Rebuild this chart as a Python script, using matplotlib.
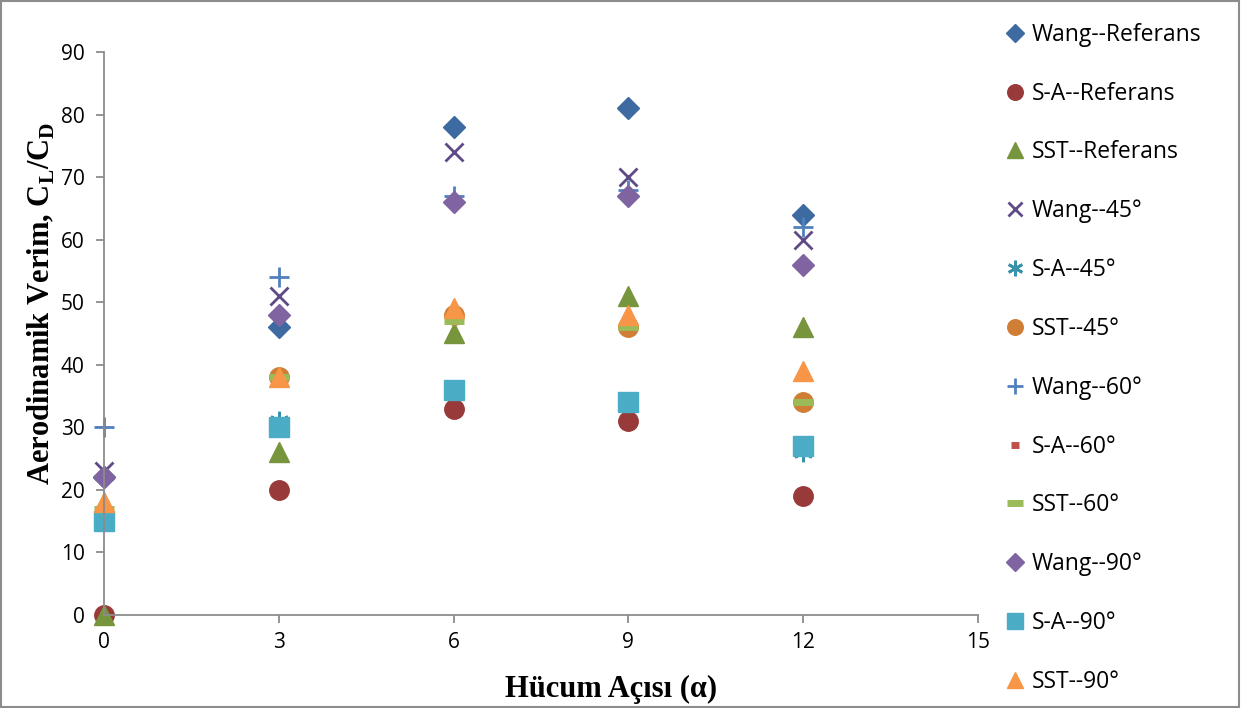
import matplotlib.pyplot as plt
from matplotlib.patches import Rectangle

# angle of attack
x = [0, 3, 6, 9, 12]

# aerodynamic efficiency CL/CD for each series
wang_ref = [22, 46, 78, 81, 64]
sa_ref = [0, 20, 33, 31, 19]
sst_ref = [0, 26, 45, 51, 46]
wang_45 = [23, 51, 74, 70, 60]
sa_45 = [15, 31, 36, 34, 26]
sst_45 = [15, 38, 48, 46, 34]
wang_60 = [30, 54, 67, 68, 62]
sa_60 = [15, 30, 36, 34, 26]
sst_60 = [17, 38, 47, 46, 34]
wang_90 = [22, 48, 66, 67, 56]
sa_90 = [15, 30, 36, 34, 27]
sst_90 = [18, 38, 49, 48, 39]

labels = ['Wang--Referans', 'S-A--Referans', 'SST--Referans',
          'Wang--45°', 'S-A--45°', 'SST--45°',
          'Wang--60°', 'S-A--60°', 'SST--60°',
          'Wang--90°', 'S-A--90°', 'SST--90°']
series = [wang_ref, sa_ref, sst_ref, wang_45, sa_45, sst_45,
          wang_60, sa_60, sst_60, wang_90, sa_90, sst_90]

styles = [
    dict(marker='D', color='#3d6aa1', ms=11.5),
    dict(marker='o', color='#973a39', ms=14),
    dict(marker='^', color='#77953d', ms=14),
    dict(marker='x', color='#5e4a87', ms=13, mew=2),
    dict(marker=(6, 2, 0), color='#3792aa', ms=14, mew=2),
    dict(marker='o', color='#d07e36', ms=14),
    dict(marker='+', color='#4f81bd', ms=15, mew=2),
    dict(marker='_', color='#c0504d', ms=7, mew=5),
    dict(marker='_', color='#9bbb59', ms=14, mew=5),
    dict(marker='D', color='#8064a2', ms=11.5),
    dict(marker='s', color='#4bacc6', ms=14),
    dict(marker='^', color='#f79646', ms=14),
]

plt.rcParams['font.family'] = ['Open Sans', 'DejaVu Sans']
plt.rcParams['mathtext.fontset'] = 'custom'
plt.rcParams['mathtext.bf'] = 'Liberation Serif:bold'
plt.rcParams['mathtext.rm'] = 'Liberation Serif:bold'

fig = plt.figure(figsize=(12.41, 7.08), dpi=100)
ax = fig.add_axes([0.0838, 0.1314, 0.7042, 0.7952])

for y, lab, st in zip(series, labels, styles):
    ax.plot(x, y, linestyle='none', label=lab, marker=st['marker'],
            color=st['color'], markersize=st['ms'],
            markeredgewidth=st.get('mew', 1), clip_on=False)

ax.set_xlim(0, 15)
ax.set_ylim(0, 90)
ax.set_xticks(range(0, 16, 3))
ax.set_yticks(range(0, 91, 10))
for s in ['top', 'right']:
    ax.spines[s].set_visible(False)
for s in ['left', 'bottom']:
    ax.spines[s].set_color('#8c8c8c')
    ax.spines[s].set_linewidth(1.3)
ax.tick_params(colors='#8c8c8c', labelcolor='black', labelsize=15,
               length=6, width=1.3)
ax.tick_params(axis='y', pad=8)
ax.tick_params(axis='x', pad=6)

fig.text(0.492, 0.026, 'Hücum Açısı (α)', ha='center', va='center',
         family='Liberation Serif', weight='bold', fontsize=22)
fig.text(0.033, 0.572, r'Aerodinamik Verim, C$_{\mathbf{L}}$/C$_{\mathbf{D}}$',
         rotation=90, ha='center', va='center', family='Liberation Serif',
         weight='bold', fontsize=22)

fig.legend(loc='upper left', bbox_to_anchor=(0.79, 0.997), frameon=False,
           fontsize=16.5, labelspacing=1.52, handletextpad=0.15,
           handlelength=1.2, markerscale=0.8)

fig.patches.append(Rectangle((0.001, 0.001), 0.997, 0.997, transform=fig.transFigure,
                             fill=False, edgecolor='#8c8c8c', linewidth=1.5))

fig.savefig('out.png', dpi=100)
